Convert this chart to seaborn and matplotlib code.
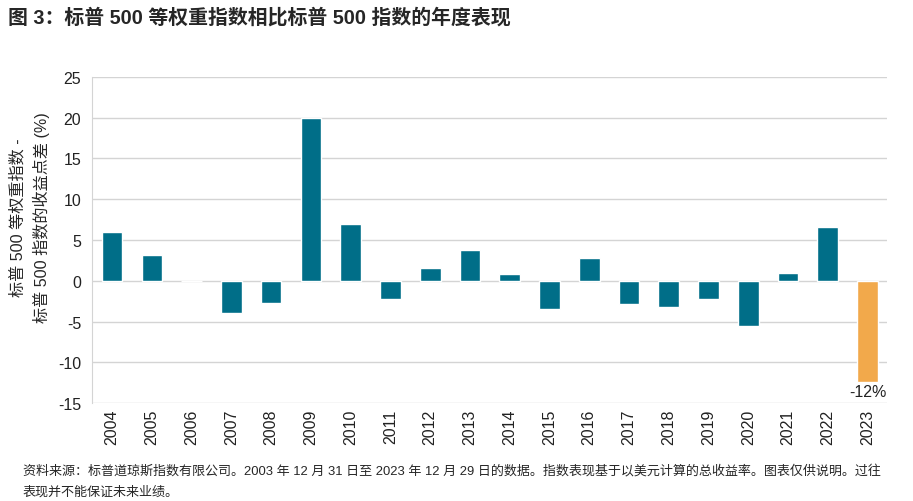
import matplotlib
matplotlib.use("Agg")
import matplotlib.pyplot as plt
import seaborn as sns
import pandas as pd

years = [str(y) for y in range(2004, 2024)]
spread = [6.0, 3.2, 0.0, -4.0, -2.7, 19.9, 6.9, -2.2, 1.6, 3.8,
          0.8, -3.5, 2.8, -2.9, -3.2, -2.2, -5.5, 0.9, 6.6, -12.4]
yticks = [-15, -10, -5, 0, 5, 10, 15, 20, 25]

TITLE = "图 3：标普 500 等权重指数相比标普 500 指数的年度表现"
YLABEL = "标普 500 等权重指数 -\n标普 500 指数的收益点差 (%)"
NOTE = ("资料来源：标普道琼斯指数有限公司。2003 年 12 月 31 日至 2023 年 12 月 29 日的数据。指数表现基于以美元计算的总收益率。图表仅供说明。过往\n"
        "表现并不能保证未来业绩。")

TEAL = "#006E88"
ORANGE = "#F2A94B"


def main():
    sns.set_style("white")
    plt.rcParams["font.family"] = ["Liberation Sans", "Noto Sans CJK SC"]

    df = pd.DataFrame({"year": years, "spread": spread})
    colors = [TEAL] * (len(years) - 1) + [ORANGE]

    fig = plt.figure(figsize=(9.13, 5.02), dpi=100)
    ax = fig.add_axes([0.101, 0.195, 0.871, 0.650])
    sns.barplot(data=df, x="year", y="spread", hue="year", palette=colors,
                legend=False, width=0.52, saturation=1, ax=ax)

    ax.set_ylim(-15, 25)
    ax.set_yticks(yticks)
    ax.set_yticklabels([str(t) for t in yticks], fontsize=11.5, color="#222222")
    ax.set_xlim(-0.5, len(years) - 0.5)
    ax.tick_params(axis="x", labelrotation=90, labelsize=11.5, length=0, pad=4)
    ax.tick_params(axis="y", length=0, pad=8)
    for lab in ax.get_xticklabels():
        lab.set_color("#222222")
    ax.yaxis.grid(True, color="#D4D4D4", linewidth=1)
    ax.set_axisbelow(True)
    for s in ["top", "right", "bottom"]:
        ax.spines[s].set_visible(False)
    ax.spines["left"].set_color("#D4D4D4")
    ax.set_xlabel("")
    ax.set_ylabel(YLABEL, fontsize=11.6, linespacing=1.5)
    ax.yaxis.set_label_coords(-0.053, 0.57)

    ax.text(len(years) - 1, spread[-1] - 0.3, "-12%", ha="center", va="top",
            fontsize=11.5, color="#222222")

    fig.text(0.009, 0.965, TITLE, fontsize=14.3, fontweight="bold",
             va="center", ha="left")
    fig.text(0.025, 0.04, NOTE, fontsize=9.4, va="center", ha="left",
             linespacing=1.85)

    fig.savefig("out.png", dpi=100)


if __name__ == "__main__":
    main()
